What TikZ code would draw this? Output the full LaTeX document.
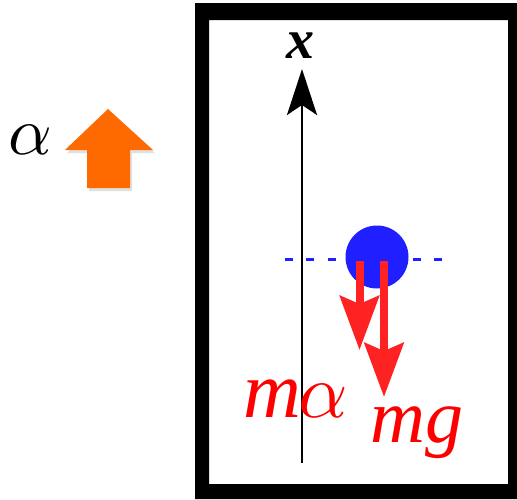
\documentclass[tikz,border=0pt]{standalone}
\usepackage{graphicx}
\usepackage{fontspec}
\newfontfamily\tms{Liberation Serif}
\usetikzlibrary{arrows.meta}
\definecolor{orng}{HTML}{FF6A00}
\definecolor{rd}{HTML}{FF2222}
\definecolor{txtred}{HTML}{FF0000}
\definecolor{blu}{HTML}{1F1FFF}
\tikzset{
  redforce/.style={draw=rd, line width=8pt, -{Stealth[length=54pt,width=39pt,inset=8pt]}},
  lbl/.style={inner sep=0pt, outer sep=0pt, anchor=base, text=txtred},
}
\begin{document}
\begin{tikzpicture}[x=1pt,y=-1pt]
\useasboundingbox (0,0) rectangle (517,499);
% frame
\fill[black, even odd rule] (195,3) rectangle (517,499) (209,20) rectangle (508,484);
% orange arrow with soft shadow
\fill[black, opacity=0.12] (89,191) -- (89,153) -- (67,153) -- (110,112) -- (155,153) -- (132,153) -- (132,191) -- cycle;
\fill[orng] (87,188) -- (87,150) -- (65,150) -- (108,109) -- (153,150) -- (130,150) -- (130,188) -- cycle;
\node[inner sep=0pt, anchor=center] (alpha) at (30,140) {\scalebox{6.8}{$\alpha$}};
% axis
\coordinate (axbot) at (302,463);
\coordinate (axtop) at (302,69);
\draw[line width=2.5pt, -{Stealth[length=46pt,width=30pt,inset=10pt]}] (axbot) -- (axtop);
\node[inner sep=0pt, anchor=center] (xlabel) at (300,46) {\fontsize{56}{60}\selectfont\tms\bfseries\itshape x};
% dashed level
\coordinate (dl) at (285,259);
\coordinate (dr) at (443,259);
\draw[blu, line width=3pt, dash pattern=on 8pt off 13.3pt] (dl) -- (dr);
% ball
\node[circle, fill=blu, minimum size=63pt, inner sep=0pt] (ball) at (377,257) {};
% forces
\coordinate (fa0) at (359.5,261);
\coordinate (fa1) at (359.5,350);
\coordinate (fg0) at (384,261);
\coordinate (fg1) at (384,397);
\draw[redforce] (fa0) -- (fa1);
\draw[redforce] (fg0) -- (fg1);
\node[lbl] (malpha) at (295.5,417) {{\fontsize{80}{84}\selectfont\tms\itshape m}\kern-3pt\scalebox{7.7}{$\alpha$}};
\node[lbl] (mg) at (417,442) {\fontsize{76}{80}\selectfont\tms\itshape mg};
\end{tikzpicture}
\end{document}
